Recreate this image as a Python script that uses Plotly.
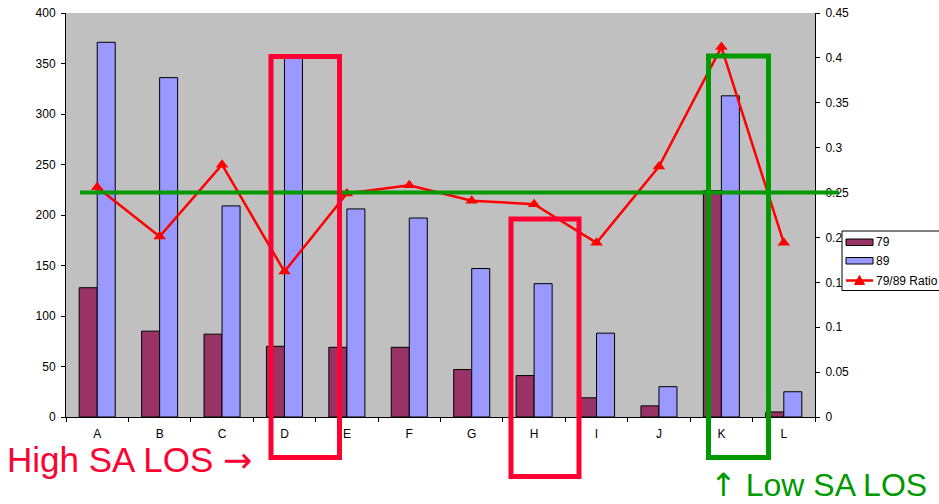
import plotly.graph_objects as go

# ---- data ----
categories = ["A", "B", "C", "D", "E", "F", "G", "H", "I", "J", "K", "L"]
los_79 = [128, 85, 82, 70, 69, 69, 47, 41, 19, 11, 224, 5]
los_89 = [371, 336, 209, 356, 206, 197, 147, 132, 83, 30, 318, 25]
ratio_79_89 = [0.256, 0.201, 0.281, 0.162, 0.249, 0.258, 0.241, 0.237, 0.194, 0.279, 0.412, 0.194]
ratio_target = 0.25

# ---- layout geometry (pixels) ----
FIG_W, FIG_H = 939, 504
M_L, M_T, M_R, M_B = 66, 13, 124, 87
PW = FIG_W - M_L - M_R
PH = FIG_H - M_T - M_B


def px(x):
    """pixel x -> paper x"""
    return (x - M_L) / PW


def py(y):
    """pixel y (from top) -> paper y"""
    return (M_T + PH - y) / PH


FONT = "Arial, 'Liberation Sans', sans-serif"
ARROW_FONT = "'DejaVu Sans'"
C79 = "#993366"
C89 = "#9999FF"
RED = "#FF0000"
PINK_RED = "#FF0033"
GREEN = "#009900"

fig = go.Figure()
fig.add_trace(go.Bar(
    x=categories, y=los_79, name="79",
    marker=dict(color=C79, line=dict(color="#000000", width=1)),
    showlegend=False,
))
fig.add_trace(go.Bar(
    x=categories, y=los_89, name="89",
    marker=dict(color=C89, line=dict(color="#000000", width=1)),
    showlegend=False,
))
fig.add_trace(go.Scatter(
    x=categories, y=ratio_79_89, name="79/89 Ratio", yaxis="y2",
    mode="lines+markers",
    line=dict(color=RED, width=2.5),
    marker=dict(symbol="triangle-up", size=11, color=RED),
    showlegend=False,
))

shapes = []
# target ratio line
shapes.append(dict(type="line", xref="paper", yref="y2",
                   x0=px(80), x1=px(839), y0=ratio_target, y1=ratio_target,
                   line=dict(color=GREEN, width=4), layer="above"))
# highlight boxes
for (x0, x1, y0, y1, col) in [
    (271, 339.5, 56.5, 457.5, PINK_RED),
    (511, 579, 219, 476.5, PINK_RED),
    (708.5, 768.5, 56, 457.5, GREEN),
]:
    shapes.append(dict(type="rect", xref="paper", yref="paper",
                       x0=px(x0), x1=px(x1), y0=py(y1), y1=py(y0),
                       line=dict(color=col, width=5), fillcolor="rgba(0,0,0,0)",
                       layer="above"))

# legend box
shapes.append(dict(type="rect", xref="paper", yref="paper",
                   x0=px(842), x1=px(960), y0=py(290.5), y1=py(231),
                   line=dict(color="#000000", width=1), fillcolor="#FFFFFF",
                   layer="above"))
shapes.append(dict(type="rect", xref="paper", yref="paper",
                   x0=px(846), x1=px(873), y0=py(245.5), y1=py(239),
                   line=dict(color="#000000", width=1), fillcolor=C79, layer="above"))
shapes.append(dict(type="rect", xref="paper", yref="paper",
                   x0=px(846), x1=px(873), y0=py(264), y1=py(257.5),
                   line=dict(color="#000000", width=1), fillcolor=C89, layer="above"))
shapes.append(dict(type="line", xref="paper", yref="paper",
                   x0=px(846), x1=px(873), y0=py(280.5), y1=py(280.5),
                   line=dict(color=RED, width=2.5), layer="above"))
tx, ty = 859.5, 280.5
tri = "M {:.5f} {:.5f} L {:.5f} {:.5f} L {:.5f} {:.5f} Z".format(
    px(tx - 5), py(ty + 4), px(tx + 5), py(ty + 4), px(tx), py(ty - 5))
shapes.append(dict(type="path", xref="paper", yref="paper", path=tri,
                   fillcolor=RED, line=dict(color=RED, width=1), layer="above"))

annotations = []
for label, yy in [("79", 242), ("89", 261), ("79/89 Ratio", 280.5)]:
    annotations.append(dict(text=label, xref="paper", yref="paper",
                            x=px(874), y=py(yy), xanchor="left", yanchor="middle",
                            showarrow=False, font=dict(family=FONT, size=12, color="#000000")))

# callout captions
annotations.append(dict(
    text="High SA LOS <span style=\"font-family:" + ARROW_FONT + "\">→</span>",
    xref="paper", yref="paper",
    x=px(5), y=py(460), xanchor="left", yanchor="middle",
    showarrow=False, font=dict(family=FONT, size=35, color=PINK_RED)))
annotations.append(dict(
    text="<span style=\"font-family:" + ARROW_FONT + "\">↑</span> Low SA LOS",
    xref="paper", yref="paper",
    x=px(708), y=py(484.5), xanchor="left", yanchor="middle",
    showarrow=False, font=dict(family=FONT, size=32, color=GREEN)))

fig.update_layout(
    width=FIG_W, height=FIG_H,
    margin=dict(l=M_L, r=M_R, t=M_T, b=M_B, pad=0, autoexpand=False),
    paper_bgcolor="#FFFFFF",
    plot_bgcolor="#C0C0C0",
    barmode="group",
    bargap=0.423,
    bargroupgap=0,
    showlegend=False,
    font=dict(family=FONT, size=12, color="#000000"),
    xaxis=dict(
        type="category", range=[-0.5, len(categories) - 0.5],
        showgrid=False, zeroline=False,
        showline=True, linecolor="#000000", linewidth=1,
        ticks="outside", tickson="boundaries", ticklen=4, tickcolor="#000000",
        ticklabelstandoff=6,
        tickfont=dict(family=FONT, size=12, color="#000000"),
    ),
    yaxis=dict(
        range=[0, 400], dtick=50, showgrid=False, zeroline=False,
        showline=True, linecolor="#000000", linewidth=1,
        ticks="outside", ticklen=4, tickcolor="#000000",
        ticklabelstandoff=3,
        tickfont=dict(family=FONT, size=12, color="#000000"),
    ),
    yaxis2=dict(
        range=[0, 0.45], dtick=0.05, overlaying="y", side="right",
        showgrid=False, zeroline=False,
        showline=True, linecolor="#000000", linewidth=1,
        ticks="outside", ticklen=4, tickcolor="#000000",
        ticklabelstandoff=3,
        tickfont=dict(family=FONT, size=12, color="#000000"),
    ),
    shapes=shapes,
    annotations=annotations,
)

fig.write_html("out.html")
